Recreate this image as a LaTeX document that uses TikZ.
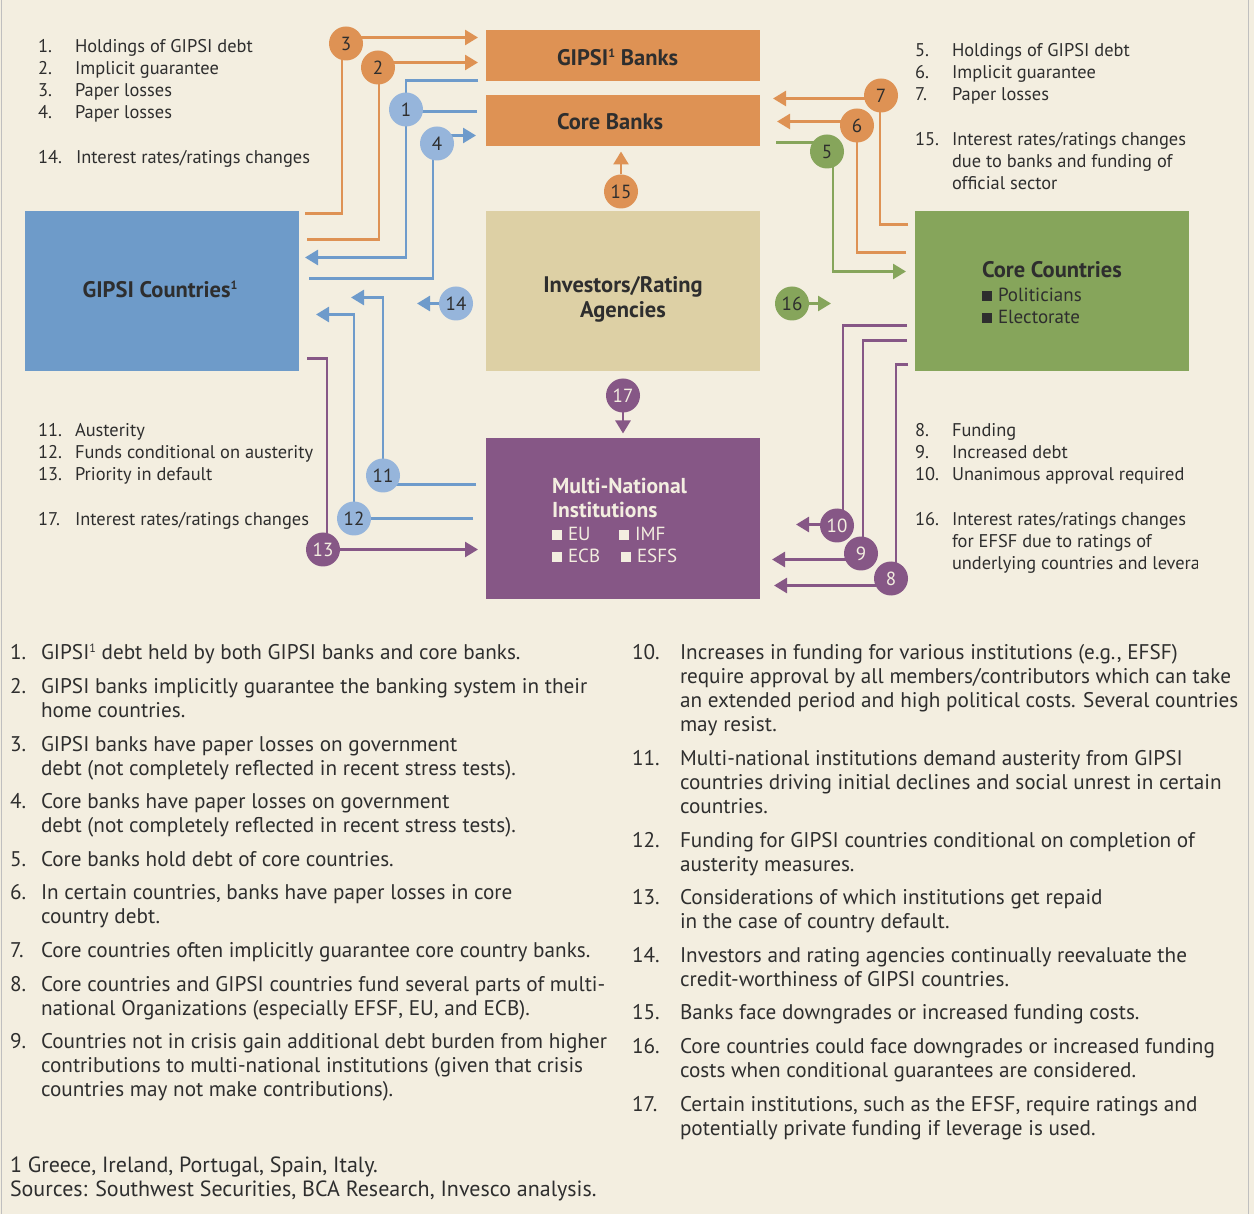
\documentclass[tikz,border=0pt]{standalone}
\usepackage{fontspec}
\setmainfont{PT Sans}
\usetikzlibrary{arrows.meta}
\definecolor{bgc}{HTML}{F3EEE0}
\definecolor{tx}{HTML}{2E2E2E}
\definecolor{orc}{HTML}{DE9254}
\definecolor{blbox}{HTML}{6E9BC9}
\definecolor{blln}{HTML}{6E9BCB}
\definecolor{blci}{HTML}{96B5DB}
\definecolor{tanc}{HTML}{DDD0A5}
\definecolor{grc}{HTML}{86A55B}
\definecolor{puc}{HTML}{865786}
\newcommand{\sqb}{\rule[0.5pt]{10pt}{10pt}\hspace{6pt}}
\newcommand{\sone}[1]{\raisebox{#1}{\fontsize{12}{12}\selectfont 1}}
\newcommand{\mytxt}[5]{\node[#1] (#2) at (#3,#4) {#5};}
\pgfdeclarelayer{bglayer}
\pgfdeclarelayer{lines}
\pgfsetlayers{bglayer,lines,main}
\begin{document}
\begin{tikzpicture}[x=1pt,y=-1pt,
 lg/.style={inner sep=0, outer sep=0, anchor=base west, text=tx, font=\fontsize{18.4}{21}\selectfont},
 bt/.style={inner sep=0, outer sep=0, anchor=base west, text=tx, font=\fontsize{21.2}{24}\selectfont},
 ft/.style={inner sep=0, outer sep=0, anchor=base west, text=tx, font=\fontsize{22}{24}\selectfont},
 hd/.style={inner sep=0, outer sep=0, text=tx, font=\bfseries\fontsize{22.5}{24}\selectfont},
 sub/.style={inner sep=0, outer sep=0, anchor=base west, text=tx, font=\fontsize{19}{22}\selectfont},
 box/.style={inner sep=0, outer sep=0, minimum width=274pt, anchor=north west},
 circ/.style={circle, inner sep=0, outer sep=0, minimum size=34pt, text=tx, font=\fontsize{19}{19}\selectfont},
 ln/.style={line width=2.6pt},
 ar/.style={ln, -{Triangle[length=13pt,width=15pt]}},
]
\begin{pgfonlayer}{bglayer}
\fill[bgc] (0,0) rectangle (1254,1213);
\draw[black!25, line width=1pt] (1,0) -- (1,1213);
\draw[black!25, line width=1pt] (1248,0) -- (1248,1213);
\end{pgfonlayer}
\useasboundingbox (0,0) rectangle (1254,1213);

% boxes
\node[box, fill=orc, minimum height=51pt] (gb) at (486,30) {};
\node[box, fill=orc, minimum height=51pt] (cb) at (486,95) {};
\node[box, fill=tanc, minimum height=160pt] (inv) at (486,211) {};
\node[box, fill=puc, minimum height=160pt] (mni) at (486,438) {};
\node[box, fill=blbox, minimum height=160pt] (gc) at (25,211) {};
\node[box, fill=grc, minimum height=160pt] (cc) at (915,211) {};

% box texts
\node[hd, anchor=base west] (gbt) at (557,65) {GIPSI\sone{7.5pt} Banks};
\node[hd, anchor=base west] (cbt) at (557,129) {Core Banks};
\node[hd, anchor=base] (invt1) at (623,292) {Investors/Rating};
\node[hd, anchor=base] (invt2) at (623,317) {Agencies};
\node[hd, anchor=base] (gct) at (160,297) {GIPSI Countries\sone{7.5pt}};
\node[hd, anchor=base west] (cct) at (982,277) {Core Countries};
\node[sub] (cc1) at (982,301) {\sqb Politicians};
\node[sub] (cc2) at (982,323) {\sqb Electorate};
\node[hd, anchor=base west, text=bgc, font=\bfseries\fontsize{21.6}{24}\selectfont] (mt1) at (552,493) {Multi-National};
\node[hd, anchor=base west, text=bgc, font=\bfseries\fontsize{21.6}{24}\selectfont] (mt2) at (552,517) {Institutions};
\node[sub, text=bgc] (m1) at (552,540) {\sqb EU};
\node[sub, text=bgc] (m2) at (619,540) {\sqb IMF};
\node[sub, text=bgc] (m3) at (552,562) {\sqb ECB};
\node[sub, text=bgc] (m4) at (621,562) {\sqb ESFS};

% circles
\node[circ, fill=orc] (c3) at (346,43) {3};
\node[circ, fill=orc] (c2) at (378,67) {2};
\node[circ, fill=blci] (c1) at (406,109) {1};
\node[circ, fill=blci] (c4) at (437,143) {4};
\node[circ, fill=orc] (c15) at (621,191) {15};
\node[circ, fill=blci] (c14) at (456,303) {14};
\node[circ, fill=orc] (c7) at (881,95) {7};
\node[circ, fill=orc] (c6) at (857,125) {6};
\node[circ, fill=grc] (c5) at (827,151) {5};
\node[circ, fill=grc] (c16) at (792,303) {16};
\node[circ, fill=puc, text=bgc] (c17) at (623,395) {17};
\node[circ, fill=blci] (c11) at (383,475) {11};
\node[circ, fill=blci] (c12) at (354,518) {12};
\node[circ, fill=puc, text=bgc] (c13) at (323,549) {13};
\node[circ, fill=puc, text=bgc] (c10) at (837,525) {10};
\node[circ, fill=puc, text=bgc] (c9) at (861,553) {9};
\node[circ, fill=puc, text=bgc] (c8) at (891,578) {8};

% free ends
\coordinate (e3) at (305,213);
\coordinate (e2) at (307,239);
\coordinate (e1a) at (478,80);
\coordinate (e1b) at (477,111);
\coordinate (e4) at (309,278);
\coordinate (e11) at (476,484);
\coordinate (e12) at (473,518);
\coordinate (e13) at (307,358);
\coordinate (e7) at (908,224);
\coordinate (e6) at (906,252);
\coordinate (e5) at (776,142);
\coordinate (e10) at (907,325);
\coordinate (e9) at (907,340);
\coordinate (e8) at (908,364);

\begin{pgfonlayer}{lines}
\draw[ar, orc] (e3) -| (342,37) -- (478,37);
\draw[ar, orc] (e2) -| (379,62) -- (478,62);
\draw[ar, blln] (e1a) -| (406,257) -- (305,257);
\draw[ln, blln] (e1b) -- (c1 |- e1b);
\draw[ar, blln] (e4) -| (433,135) -- (476,135);
\draw[ar, blln] (c14) -- (417,303);
\draw[ar, orc] (c15) -- (621,151);
\draw[ar, blln] (e11) -| (383,297) -- (351,297);
\draw[ar, blln] (e12) -| (354,314) -- (316,314);
\draw[ar, puc] (e13) -| (327,549) -- (478,549);
\draw[ar, orc] (e7) -| (880,98) -- (773,98);
\draw[ar, orc] (e6) -| (857,121) -- (777,121);
\draw[ar, grc] (e5) -| (833,271) -- (906,271);
\draw[ar, grc] (c16) -- (831,303);
\draw[ar, puc] (c17) -- (623,433);
\draw[ar, puc] (e10) -| (843,524) -- (796,524);
\draw[ar, puc] (e9) -| (863,559) -- (772,559);
\draw[ar, puc] (e8) -| (896,585) -- (774,585);
\end{pgfonlayer}

% legends top-left
\mytxt{lg}{n1}{38}{51.7}{1.}
\mytxt{lg}{n2}{38}{74}{2.}
\mytxt{lg}{n3}{38}{95.7}{3.}
\mytxt{lg}{n4}{38}{118.3}{4.}
\mytxt{lg}{n14}{38}{163.3}{14.}
\mytxt{lg}{l1}{75}{51.7}{Holdings of GIPSI debt}
\mytxt{lg}{l2}{75}{74}{Implicit guarantee}
\mytxt{lg}{l3}{75}{95.7}{Paper losses}
\mytxt{lg}{l4}{75}{118.3}{Paper losses}
\mytxt{lg}{l14}{76}{163.3}{Interest rates/ratings changes}
% legends top-right
\mytxt{lg}{n5}{915}{56}{5.}
\mytxt{lg}{n6}{915}{78.3}{6.}
\mytxt{lg}{n7}{915}{100}{7.}
\mytxt{lg}{n15}{915}{145}{15.}
\mytxt{lg}{l5}{952}{56}{Holdings of GIPSI debt}
\mytxt{lg}{l6}{952}{78.3}{Implicit guarantee}
\mytxt{lg}{l7}{952}{100}{Paper losses}
\mytxt{lg}{l15a}{952}{145}{Interest rates/ratings changes}
\mytxt{lg}{l15b}{952}{167.3}{due to banks and funding of}
\mytxt{lg}{l15c}{952}{189.3}{official sector}
% legends mid-left
\mytxt{lg}{n11}{38}{436}{11.}
\mytxt{lg}{n12}{38}{458}{12.}
\mytxt{lg}{n13}{38}{480}{13.}
\mytxt{lg}{n17}{38}{525}{17.}
\mytxt{lg}{l11}{75}{436}{Austerity}
\mytxt{lg}{l12}{75}{458}{Funds conditional on austerity}
\mytxt{lg}{l13}{75}{480}{Priority in default}
\mytxt{lg}{l17}{75}{525}{Interest rates/ratings changes}
% legends mid-right
\mytxt{lg}{n8}{915}{436}{8.}
\mytxt{lg}{n9}{915}{458.3}{9.}
\mytxt{lg}{n10}{915}{480}{10.}
\mytxt{lg}{n16}{915}{525}{16.}
\mytxt{lg}{l8}{952}{436}{Funding}
\mytxt{lg}{l9}{952}{458.3}{Increased debt}
\mytxt{lg}{l10}{952}{480}{Unanimous approval required}
\mytxt{lg}{l16a}{952}{525}{Interest rates/ratings changes}
\mytxt{lg}{l16b}{952}{547.3}{for EFSF due to ratings of}
\begin{scope}
\clip (940,550) rectangle (1197,580);
\mytxt{lg}{l16c}{952}{569.3}{underlying countries and levera}
\end{scope}

% bottom left column
\mytxt{bt}{b1n}{10}{659}{1.}
\mytxt{bt}{b1a}{41}{659}{GIPSI\sone{7pt} debt held by both GIPSI banks and core banks.}
\mytxt{bt}{b2n}{10}{693}{2.}
\mytxt{bt}{b2a}{41}{693}{GIPSI banks implicitly guarantee the banking system in their}
\mytxt{bt}{b2b}{41}{717}{home countries.}
\mytxt{bt}{b3n}{10}{751}{3.}
\mytxt{bt}{b3a}{41}{751}{GIPSI banks have paper losses on government}
\mytxt{bt}{b3b}{41}{775}{debt (not completely reflected in recent stress tests).}
\mytxt{bt}{b4n}{10}{808}{4.}
\mytxt{bt}{b4a}{41}{808}{Core banks have paper losses on government}
\mytxt{bt}{b4b}{41}{832}{debt (not completely reflected in recent stress tests).}
\mytxt{bt}{b5n}{10}{866}{5.}
\mytxt{bt}{b5a}{41}{866}{Core banks hold debt of core countries.}
\mytxt{bt}{b6n}{10}{899}{6.}
\mytxt{bt}{b6a}{41}{899}{In certain countries, banks have paper losses in core}
\mytxt{bt}{b6b}{41}{923}{country debt.}
\mytxt{bt}{b7n}{10}{957}{7.}
\mytxt{bt}{b7a}{41}{957}{Core countries often implicitly guarantee core country banks.}
\mytxt{bt}{b8n}{10}{991}{8.}
\mytxt{bt}{b8a}{41}{991}{Core countries and GIPSI countries fund several parts of multi-}
\mytxt{bt}{b8b}{41}{1015}{national Organizations (especially EFSF, EU, and ECB).}
\mytxt{bt}{b9n}{10}{1048}{9.}
\mytxt{bt}{b9a}{41}{1048}{Countries not in crisis gain additional debt burden from higher}
\mytxt{bt}{b9b}{41}{1072}{contributions to multi-national institutions (given that crisis}
\mytxt{bt}{b9c}{41}{1096}{countries may not make contributions).}
% bottom right column
\mytxt{bt}{b10n}{632}{659}{10.}
\mytxt{bt}{b10a}{680}{659}{Increases in funding for various institutions (e.g., EFSF)}
\mytxt{bt}{b10b}{680}{683}{require approval by all members/contributors which can take}
\mytxt{bt}{b10c}{680}{707}{an extended period and high political costs. Several countries}
\mytxt{bt}{b10d}{680}{731}{may resist.}
\mytxt{bt}{b11n}{632}{765}{11.}
\mytxt{bt}{b11a}{680}{765}{Multi-national institutions demand austerity from GIPSI}
\mytxt{bt}{b11b}{680}{789}{countries driving initial declines and social unrest in certain}
\mytxt{bt}{b11c}{680}{813}{countries.}
\mytxt{bt}{b12n}{632}{847}{12.}
\mytxt{bt}{b12a}{680}{847}{Funding for GIPSI countries conditional on completion of}
\mytxt{bt}{b12b}{680}{871}{austerity measures.}
\mytxt{bt}{b13n}{632}{904}{13.}
\mytxt{bt}{b13a}{680}{904}{Considerations of which institutions get repaid}
\mytxt{bt}{b13b}{680}{928}{in the case of country default.}
\mytxt{bt}{b14n}{632}{962}{14.}
\mytxt{bt}{b14a}{680}{962}{Investors and rating agencies continually reevaluate the}
\mytxt{bt}{b14b}{680}{986}{credit-worthiness of GIPSI countries.}
\mytxt{bt}{b15n}{632}{1019}{15.}
\mytxt{bt}{b15a}{680}{1019}{Banks face downgrades or increased funding costs.}
\mytxt{bt}{b16n}{632}{1053}{16.}
\mytxt{bt}{b16a}{680}{1053}{Core countries could face downgrades or increased funding}
\mytxt{bt}{b16b}{680}{1077}{costs when conditional guarantees are considered.}
\mytxt{bt}{b17n}{632}{1111}{17.}
\mytxt{bt}{b17a}{680}{1111}{Certain institutions, such as the EFSF, require ratings and}
\mytxt{bt}{b17b}{680}{1135}{potentially private funding if leverage is used.}
% footnotes
\mytxt{ft}{f1}{10}{1172}{1 Greece, Ireland, Portugal, Spain, Italy.}
\mytxt{ft}{f2}{10}{1196}{Sources: Southwest Securities, BCA Research, Invesco analysis.}
\end{tikzpicture}
\end{document}
